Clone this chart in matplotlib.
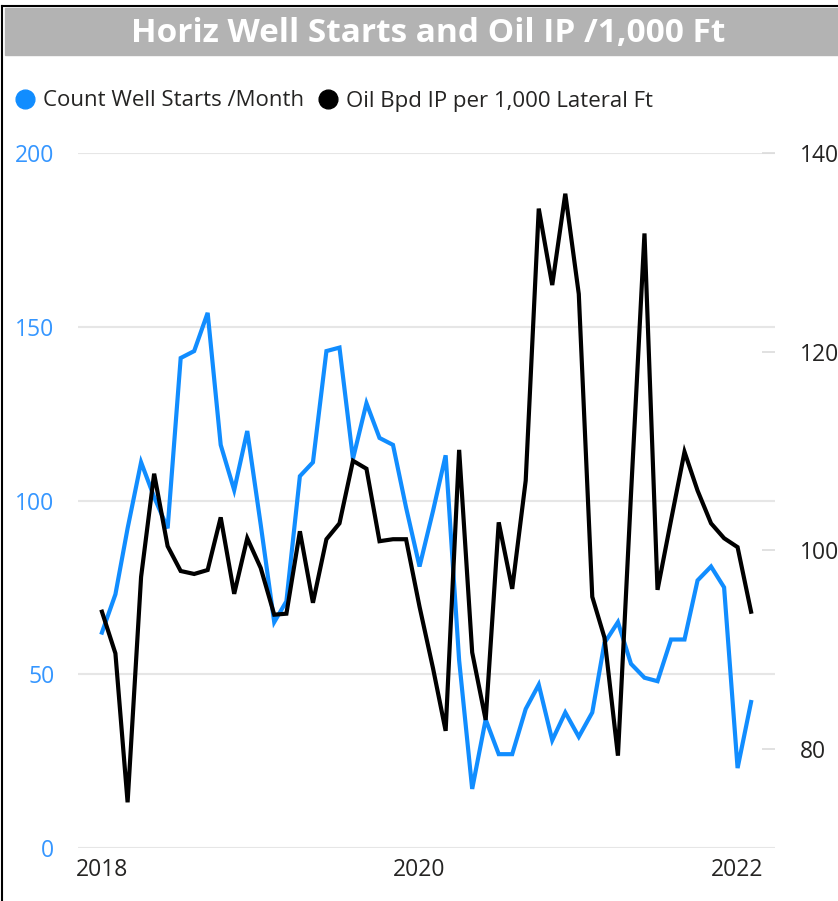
import matplotlib.pyplot as plt
import pandas as pd
from matplotlib.lines import Line2D
from matplotlib.patches import Rectangle

# monthly values, Jan 2018 .. Feb 2022
months = pd.date_range('2018-01-01', periods=50, freq='MS')
well_starts = [62, 73, 92, 111, 101, 92, 141, 143, 154, 116,
               103, 120, 93, 65, 71, 107, 111, 143, 144, 112,
               128, 118, 116, 98, 81, 97, 113, 54, 17, 37,
               27, 27, 40, 47, 31, 39, 32, 39, 59, 65,
               53, 49, 48, 60, 60, 77, 81, 75, 23, 42]
oil_ip = [93.8, 89.6, 74.6, 97.3, 107.7, 100.4, 97.9, 97.6, 98.0, 103.3,
          95.6, 101.2, 98.2, 93.5, 93.6, 101.9, 94.7, 101.1, 102.7, 109.0,
          108.2, 100.9, 101.1, 101.1, 94.3, 88.1, 81.8, 110.1, 89.7, 82.9,
          102.8, 96.1, 107.0, 134.4, 126.7, 135.9, 125.8, 95.3, 91.2, 79.3,
          105.6, 131.9, 96.0, 103.0, 109.9, 106.0, 102.7, 101.2, 100.3, 93.8]

left_ticks = [0, 50, 100, 150, 200]
right_ticks = [80, 100, 120, 140]
year_ticks = ['2018-01-01', '2020-01-01', '2022-01-01']
year_labels = ['2018', '2020', '2022']

title = 'Horiz Well Starts and Oil IP /1,000 Ft'
series_names = ['Count Well Starts /Month', 'Oil Bpd IP per 1,000 Lateral Ft']

BLUE = '#118DFF'
TEXT = '#252423'


def main():
    plt.rcParams['font.family'] = ['Open Sans', 'DejaVu Sans']
    W, H = 838, 901
    fig = plt.figure(figsize=(W / 100, H / 100), dpi=100)

    # title bar and frame lines
    fig.patches.append(Rectangle((5 / W, 1 - 55 / H), 1, 47 / H,
                                 transform=fig.transFigure, color='#b3b3b3', zorder=0))
    fig.text(428 / W, 1 - 33 / H, title, ha='center', va='center',
             color='white', fontsize=24, fontweight='bold')
    fig.add_artist(Line2D([2 / W, 2 / W], [0, 1 - 6 / H], color='black', lw=1.5,
                          transform=fig.transFigure))
    fig.add_artist(Line2D([2 / W, 1], [1 - 6 / H, 1 - 6 / H], color='black', lw=1.5,
                          transform=fig.transFigure))

    ax = fig.add_axes([78 / W, 53 / H, 697 / W, 695 / H])
    ax.plot(months, well_starts, color=BLUE, lw=3, solid_joinstyle='miter')
    ax.set_ylim(0, 200)
    ax.set_yticks(left_ticks)
    ax.set_xlim(pd.Timestamp('2017-11-07'), pd.Timestamp('2022-03-28'))
    ax.set_xticks(pd.to_datetime(year_ticks))
    ax.set_xticklabels(year_labels)
    ax.grid(axis='y', color='#e6e6e6', lw=1.5)
    ax.set_axisbelow(True)
    ax.tick_params(axis='y', length=0, pad=17, labelsize=16.5, labelcolor='#3596ff')
    ax.tick_params(axis='x', length=0, pad=7, labelsize=16.5, labelcolor=TEXT)

    ax2 = ax.twinx()
    ax2.plot(months, oil_ip, color='black', lw=3, solid_joinstyle='miter')
    ax2.set_ylim(70, 140)
    ax2.set_yticks(right_ticks)
    ax2.tick_params(axis='y', direction='in', length=9.5, width=1.2, color='#dcdcdc',
                    pad=18, labelsize=16.5, labelcolor=TEXT)

    for a in (ax, ax2):
        for s in a.spines.values():
            s.set_visible(False)

    handles = [Line2D([], [], ls='none', marker='o', markersize=13.5, color=BLUE),
               Line2D([], [], ls='none', marker='o', markersize=13.5, color='black')]
    fig.legend(handles, series_names, loc='center left', bbox_to_anchor=(16 / W, 1 - 101 / H),
               ncol=2, frameon=False, fontsize=16, handlelength=0.8, handletextpad=0.4,
               columnspacing=0.7, borderpad=0, borderaxespad=0, labelcolor=TEXT)

    fig.savefig('out.png', dpi=100)


if __name__ == "__main__":
    main()
